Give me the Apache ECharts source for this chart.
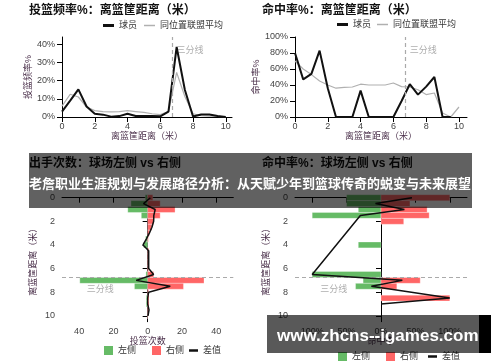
<!DOCTYPE html>
<html><head><meta charset="utf-8">
<script src="https://cdn.jsdelivr.net/npm/echarts@6/dist/echarts.min.js"></script>
<style>html,body{margin:0;padding:0;background:#fff}#c{width:500px;height:362px}</style>
</head><body><div id="c"></div>
<script>
// ---- data ----
const distances = [0,0.5,1,1.5,2,2.5,3,3.5,4,4.5,5,5.5,6,6.5,7,7.5,8,8.5,9,9.5,10];
const freqPlayer = [3,9,15.2,5.8,1.8,1.3,0.2,0.5,1.8,0.6,0.6,0.5,0.4,3,38.5,15,0.3,1.4,1.4,0.6,0];
const freqLeague = [6,12.5,11,5.5,3.5,3,2.8,3,3.5,3,2.5,1.8,1.3,3,24.5,11.3,1.8,0.7,0.5,0.3,0];
const accPlayerDist = [0,0.5,1,1.5,2,2.5,3,3.5,4,4.5,5,5.5,6,6.5,7,7.5,8,8.5,9,9.5];
const accPlayer = [80,47,54,83,36,0,0,0,33,0,0,0,0,20,41,28,38,50,0,0];
const accLeague = [70,60,53,45,40,36,37,37.5,41,40,40,40,42.5,38,37.5,34,28,30,5,0,12.5];
const countLeft  = [1.4,9.7,11.6,3.7,0,0,0,1.2,2.3,0,0,0,0,1,39.6,7.7,0,0.8,0.8,0,0];
const countRight = [3,7.3,16,7.3,3.5,2.5,1,0.4,0,0.6,0.6,0.6,0.6,3.5,32.9,20.9,0.6,0.8,0.8,0.8,0.2];
const countDiff  = [1.6,-2.4,4.4,3.6,3.5,2.5,1,-0.8,-2.7,0.6,0.6,0.6,0.6,3.5,-6.7,13.2,0.6,0,0,0.8,0.2];
const pctLeftDist  = [0,0.5,1,1.5,4,6.5,7,7.5];
const pctLeft      = [50,50,33,100,33,100,26,37];
const pctRightDist = [0,0.5,1,1.5,2,7,7.5,8.5];
const pctRight     = [100,42,67,70,33,57,23,100];
const pctDiffDist  = [0,0.5,1,1.5,6.5,7,7.5,8.5,9];
const pctDiff      = [45,-8,34,-30,-100,31,-14,100,0];
const threePoint = 6.75;
const distTicks = [0,2,4,6,8,10];
const freqTicks = [0,10,20,30,40];
const accTicks = [0,20,40,60,80,100];
const countTicks = [-40,-20,0,20,40];
const pctTicks = [-100,-50,0,50,100];

// ---- styles ----
const FONT = '"Liberation Sans","Noto Sans CJK SC",sans-serif';
const GREEN = '#66bb66', RED = '#ff6666', GRAY = '#b0b0b0';
const nameColor = '#4a2f4a';
function axisBase(extra){
  return Object.assign({
    type:'value',
    axisLine:{show:true,lineStyle:{color:'#000',width:1}},
    splitLine:{show:false},
    nameTextStyle:{color:nameColor,fontSize:9,fontFamily:FONT},
  }, extra);
}
function ticks(vals, fmt, margin){
  return {
    axisTick:{show:true,length:5,lineStyle:{color:'#000'},customValues:vals},
    axisLabel:{color:'#444',fontSize:9,fontFamily:FONT,margin:margin,customValues:vals,formatter:fmt}
  };
}
const pct = v => v + '%';
const absv = v => String(Math.abs(v));
const absPct = v => Math.abs(v) + '%';

function barRender(params, api){
  const v = api.value(0), y = api.value(1);
  if (!v) return null;
  const p1 = api.coord([0, y - 0.25]);
  const p2 = api.coord([v, y + 0.25]);
  return {type:'rect', shape:{x:Math.min(p1[0],p2[0]), y:Math.min(p1[1],p2[1]),
    width:Math.abs(p2[0]-p1[0]), height:Math.abs(p2[1]-p1[1])},
    style: api.style({stroke:'rgba(255,255,255,0.6)',lineWidth:0.5})};
}

const dashLine = (axisKey) => ({
  silent:true, symbol:'none', label:{show:false},
  lineStyle:{type:[4,3],color:'#aaa',width:1.2},
  data:[{[axisKey]:threePoint}]
});
const tpLabel = (pos) => ({show:true, formatter:'三分线', color:'#999', fontSize:9, fontFamily:FONT, position:pos, distance:4});

const option = {
  animation:false,
  textStyle:{fontFamily:FONT},
  title:[
    {text:'投篮频率%：离篮筐距离（米）',left:29,top:4,padding:0,textStyle:{fontSize:12,fontWeight:'bold',color:'#111',lineHeight:14}},
    {text:'命中率%：离篮筐距离（米）',left:262,top:4,padding:0,textStyle:{fontSize:12,fontWeight:'bold',color:'#111',lineHeight:14}},
    {text:'出手次数：球场左侧 vs 右侧',left:29,top:157,padding:0,textStyle:{fontSize:12,fontWeight:'bold',color:'#111',lineHeight:14}},
    {text:'命中率%：球场左侧 vs 右侧',left:262,top:157,padding:0,textStyle:{fontSize:12,fontWeight:'bold',color:'#111',lineHeight:14}}
  ],
  legend:[
    {data:['球员'],left:103,top:21,icon:'rect',itemWidth:11,itemHeight:3,padding:0,textStyle:{fontSize:9,color:'#333'}},
    {data:['同位置联盟平均'],left:144,top:21,icon:'rect',itemWidth:11,itemHeight:1.5,padding:0,textStyle:{fontSize:9,color:'#333'}},
    {data:['球员'],left:337,top:20,icon:'rect',itemWidth:11,itemHeight:3,padding:0,textStyle:{fontSize:9,color:'#333'}},
    {data:['同位置联盟平均'],left:377,top:20,icon:'rect',itemWidth:11,itemHeight:1.5,padding:0,textStyle:{fontSize:9,color:'#333'}},
    {data:['左侧','右侧'],left:104,top:346,icon:'rect',itemWidth:9,itemHeight:9,itemGap:16,padding:0,textStyle:{fontSize:9,color:'#333'}},
    {data:['差值'],left:189,top:346,icon:'rect',itemWidth:9,itemHeight:2.5,padding:0,textStyle:{fontSize:9,color:'#333'}},
    {data:['左侧','右侧'],left:338,top:352,icon:'rect',itemWidth:9,itemHeight:9,itemGap:16,padding:0,textStyle:{fontSize:9,color:'#333'}},
    {data:['差值'],left:428,top:352,icon:'rect',itemWidth:9,itemHeight:2.5,padding:0,textStyle:{fontSize:9,color:'#333'}}
  ],
  grid:[
    {left:62,top:37,width:170,height:80},
    {left:295,top:37,width:172,height:80},
    {left:62,top:197.7,width:171.3,height:124},
    {left:295,top:197.7,width:172,height:124}
  ],
  xAxis:[
    axisBase(Object.assign({gridIndex:0,min:0,max:10.38,name:'离篮筐距离（米）',nameLocation:'middle',nameGap:12},ticks(distTicks,null,5))),
    axisBase(Object.assign({gridIndex:1,min:0,max:10.49,name:'离篮筐距离（米）',nameLocation:'middle',nameGap:12},ticks(distTicks,null,5))),
    axisBase(Object.assign({gridIndex:2,min:-50,max:50,name:'投篮次数',nameLocation:'middle',nameGap:15},ticks(countTicks,absv,5))),
    axisBase(Object.assign({gridIndex:3,min:-125,max:125,name:'命中率',nameLocation:'middle',nameGap:15},ticks(pctTicks,absPct,5)))
  ],
  yAxis:[
    axisBase(Object.assign({gridIndex:0,min:0,max:44,name:'投篮频率%',nameLocation:'middle',nameGap:24,nameRotate:90},ticks(freqTicks,pct,7))),
    axisBase(Object.assign({gridIndex:1,min:0,max:100,name:'命中率%',nameLocation:'middle',nameGap:26,nameRotate:90},ticks(accTicks,pct,7))),
    axisBase(Object.assign({gridIndex:2,min:0,max:10.5,inverse:true,name:'离篮筐距离（米）',nameLocation:'middle',nameGap:24,nameRotate:90},ticks(distTicks,null,7))),
    axisBase(Object.assign({gridIndex:3,min:0,max:10.5,inverse:true,name:'离篮筐距离（米）',nameLocation:'middle',nameGap:24,nameRotate:90},ticks(distTicks,null,7)))
  ],
  series:[
    // top-left
    {type:'line',name:'同位置联盟平均',xAxisIndex:0,yAxisIndex:0,showSymbol:false,color:GRAY,lineStyle:{width:1.2,color:GRAY},
      data:distances.map((d,i)=>[d,freqLeague[i]])},
    {type:'line',name:'球员',xAxisIndex:0,yAxisIndex:0,showSymbol:false,color:'#111',lineStyle:{width:2,color:'#111'},
      data:distances.map((d,i)=>[d,freqPlayer[i]])},
    {type:'scatter',name:'tp0',xAxisIndex:0,yAxisIndex:0,symbolSize:0,data:[[threePoint,36.7]],label:tpLabel('right'),markLine:dashLine('xAxis'),silent:true},
    // top-right
    {type:'line',name:'同位置联盟平均',xAxisIndex:1,yAxisIndex:1,showSymbol:false,color:GRAY,lineStyle:{width:1.2,color:GRAY},
      data:distances.map((d,i)=>[d,accLeague[i]])},
    {type:'line',name:'球员',xAxisIndex:1,yAxisIndex:1,showSymbol:false,color:'#111',lineStyle:{width:2,color:'#111'},
      data:accPlayerDist.map((d,i)=>[d,accPlayer[i]])},
    {type:'scatter',name:'tp1',xAxisIndex:1,yAxisIndex:1,symbolSize:0,data:[[threePoint,83]],label:tpLabel('right'),markLine:dashLine('xAxis'),silent:true},
    // bottom-left
    {type:'custom',name:'左侧',xAxisIndex:2,yAxisIndex:2,renderItem:barRender,color:GREEN,itemStyle:{color:GREEN},encode:{x:0,y:1},
      data:distances.map((d,i)=>[-countLeft[i],d])},
    {type:'custom',name:'右侧',xAxisIndex:2,yAxisIndex:2,renderItem:barRender,color:RED,itemStyle:{color:RED},encode:{x:0,y:1},
      data:distances.map((d,i)=>[countRight[i],d])},
    {type:'line',name:'差值',xAxisIndex:2,yAxisIndex:2,showSymbol:false,color:'#111',lineStyle:{width:1.5,color:'#111'},z:5,
      data:distances.map((d,i)=>[countDiff[i],d])},
    {type:'scatter',name:'tp2',xAxisIndex:2,yAxisIndex:2,symbolSize:0,data:[[-27.6,7.8]],label:tpLabel('inside'),markLine:dashLine('yAxis'),silent:true},
    // bottom-right
    {type:'custom',name:'左侧',xAxisIndex:3,yAxisIndex:3,renderItem:barRender,color:GREEN,itemStyle:{color:GREEN},encode:{x:0,y:1},
      data:pctLeftDist.map((d,i)=>[-pctLeft[i],d])},
    {type:'custom',name:'右侧',xAxisIndex:3,yAxisIndex:3,renderItem:barRender,color:RED,itemStyle:{color:RED},encode:{x:0,y:1},
      data:pctRightDist.map((d,i)=>[pctRight[i],d])},
    {type:'line',name:'差值',xAxisIndex:3,yAxisIndex:3,showSymbol:false,color:'#111',lineStyle:{width:1.5,color:'#111'},z:5,
      data:pctDiffDist.map((d,i)=>[pctDiff[i],d])},
    {type:'scatter',name:'tp3',xAxisIndex:3,yAxisIndex:3,symbolSize:0,data:[[-68.8,7.8]],label:tpLabel('inside'),markLine:dashLine('yAxis'),silent:true}
  ],
  graphic:[
    {type:'rect',z:100,shape:{x:29,y:153,width:443,height:55},style:{fill:'rgba(0,0,0,0.62)'}},
    {type:'text',z:101,style:{x:29,y:183.5,text:'老詹职业生涯规划与发展路径分析：从天赋少年到篮球传奇的蜕变与未来展望',
      fill:'#fff',font:'bold 13px "Noto Sans CJK SC", sans-serif',textVerticalAlign:'middle'}},
    {type:'rect',z:100,shape:{x:267,y:315,width:212,height:38},style:{fill:'rgba(0,0,0,0.65)'}},
    {type:'rect',z:100,shape:{x:479,y:315,width:12,height:38},style:{fill:'#000'}},
    {type:'text',z:101,style:{x:277,y:336.5,text:'www.zhcns--igames.com',
      fill:'#fff',font:'bold 17px "Liberation Sans", sans-serif',textVerticalAlign:'middle'}}
  ]
};
const chart = echarts.init(document.getElementById('c'), null, {renderer:'canvas'});
chart.setOption(option);
</script>
</body></html>
